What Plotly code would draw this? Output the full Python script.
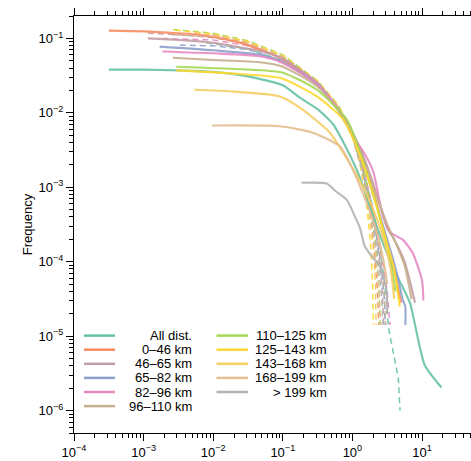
import plotly.graph_objects as go

# ---- data (exponents: x = 10**lx, y = 10**ly) ----
groups = ["All dist.", "0\u201346 km", "46\u201365 km", "65\u201382 km", "82\u201396 km", "96\u2013110 km",
          "110\u2013125 km", "125\u2013143 km", "143\u2013168 km", "168\u2013199 km", "> 199 km"]
colors = ["#66c2a5", "#f98d62", "#c49ea6", "#8da0cb", "#e78ac3", "#c6b18d",
          "#a6d854", "#ffd92f", "#f5cf62", "#e5bf91", "#b3b3b3"]

solid_lx = [
    [-3.5, -3.0, -2.5, -2.0, -1.5, -1.0, -0.75, -0.5, -0.28, -0.1, 0.1, 0.3, 0.54, 0.7, 0.83, 0.9, 1.04, 1.28],
    [-3.5, -3.0, -2.5, -2.19, -1.6, -1.0, -0.5, -0.1, 0.1, 0.3, 0.45, 0.6, 0.7],
    [-2.94, -2.5, -2.0, -1.33, -1.0, -0.5, -0.1, 0.1, 0.3, 0.5, 0.6, 0.75, 0.9],
    [-2.77, -2.0, -1.33, -1.0, -0.5, -0.1, 0.1, 0.3, 0.5, 0.65, 0.72, 0.76, 0.76],
    [-2.73, -2.0, -1.33, -1.0, -0.5, -0.2, 0.0, 0.17, 0.30, 0.42, 0.54, 0.73, 0.87, 1.0, 1.02],
    [-2.58, -2.0, -1.33, -1.0, -0.5, -0.1, 0.1, 0.3, 0.5, 0.6, 0.75, 0.85],
    [-2.53, -1.47, -1.0, -0.51, -0.08, 0.1, 0.3, 0.45, 0.55, 0.62],
    [-2.53, -1.76, -1.04, -0.51, -0.13, 0.1, 0.3, 0.45, 0.6, 0.68],
    [-2.27, -1.76, -1.04, -0.71, -0.32, -0.13, 0.1, 0.3, 0.45, 0.55, 0.6],
    [-2.02, -1.04, -0.56, -0.18, 0.0, 0.2, 0.35, 0.45, 0.5],
    [-0.73, -0.37, -0.23, -0.08, 0.04, 0.11, 0.18, 0.3, 0.40, 0.49, 0.5],
]
solid_ly = [
    [-1.42, -1.42, -1.43, -1.45, -1.51, -1.63, -1.80, -1.95, -2.15, -2.45, -2.85, -3.4, -3.98, -4.3, -4.56, -4.85, -5.39, -5.69],
    [-0.896, -0.905, -0.93, -0.95, -1.06, -1.28, -1.62, -2.1, -2.5, -3.05, -3.6, -4.1, -4.55],
    [-1.0, -1.02, -1.06, -1.17, -1.27, -1.6, -2.1, -2.45, -2.95, -3.55, -3.7, -4.0, -4.55],
    [-1.11, -1.16, -1.22, -1.32, -1.62, -2.1, -2.5, -3.1, -3.7, -4.2, -4.5, -4.6, -4.85],
    [-1.175, -1.2, -1.24, -1.33, -1.62, -1.95, -2.3, -2.54, -2.79, -3.31, -3.60, -3.71, -3.89, -4.25, -4.52],
    [-1.26, -1.29, -1.32, -1.38, -1.65, -2.1, -2.5, -3.0, -3.5, -3.7, -4.05, -4.5],
    [-1.38, -1.42, -1.46, -1.69, -2.09, -2.5, -3.1, -3.6, -4.0, -4.4],
    [-1.43, -1.47, -1.53, -1.78, -2.09, -2.55, -3.1, -3.6, -4.1, -4.6],
    [-1.69, -1.71, -1.78, -1.96, -2.27, -2.54, -2.9, -3.3, -3.7, -4.1, -4.5],
    [-2.17, -2.18, -2.27, -2.45, -2.75, -3.2, -3.6, -4.0, -4.3],
    [-2.94, -2.95, -3.06, -3.17, -3.40, -3.55, -3.80, -3.95, -4.07, -4.38, -4.7],
]

dashed_lx = [
    [-2.1, -1.5, -1.0, -0.5, -0.2, 0.0, 0.15, 0.3, 0.4, 0.47, 0.49, 0.517, 0.637, 0.66, 0.684],
    [-2.0, -1.5, -1.0, -0.5, -0.2, 0.0, 0.15, 0.25, 0.32, 0.36, 0.38],
    [-2.94, -2.5, -2.0, -1.5, -1.0, -0.5, -0.2, 0.0, 0.15, 0.28, 0.38, 0.43, 0.45],
    [-2.48, -2.0, -1.5, -1.0, -0.5, -0.2, 0.0, 0.15, 0.3, 0.4, 0.46, 0.47],
    [-2.73, -2.0, -1.5, -1.0, -0.5, -0.2, 0.0, 0.15, 0.3, 0.42, 0.5, 0.54],
    [-2.58, -2.0, -1.5, -1.0, -0.5, -0.2, 0.0, 0.15, 0.28, 0.38, 0.45, 0.48],
    [-2.58, -2.0, -1.5, -1.0, -0.5, -0.2, 0.0, 0.15, 0.25, 0.33, 0.38, 0.4],
    [-2.55, -2.0, -1.5, -1.0, -0.5, -0.2, 0.0, 0.12, 0.2, 0.26, 0.29, 0.3],
    [-2.27, -2.0, -1.5, -1.0, -0.5, -0.2, 0.0, 0.12, 0.22, 0.3, 0.33, 0.34],
    [-2.02, -1.5, -1.0, -0.5, -0.2, 0.0, 0.15, 0.25, 0.33, 0.38, 0.41],
    [-0.73, -0.5, -0.2, 0.0, 0.15, 0.28, 0.37, 0.42, 0.44],
]
dashed_ly = [
    [-1.06, -1.14, -1.3, -1.62, -1.95, -2.3, -2.75, -3.3, -3.8, -4.3, -4.52, -4.88, -5.48, -5.57, -6.0],
    [-0.95, -1.05, -1.25, -1.58, -1.92, -2.28, -2.8, -3.3, -3.9, -4.4, -4.85],
    [-0.93, -0.95, -0.99, -1.08, -1.27, -1.6, -1.94, -2.3, -2.75, -3.3, -3.9, -4.4, -4.85],
    [-1.09, -1.1, -1.15, -1.3, -1.63, -1.97, -2.32, -2.8, -3.4, -3.95, -4.5, -4.85],
    [-1.0, -1.02, -1.1, -1.26, -1.6, -1.93, -2.28, -2.72, -3.3, -3.9, -4.4, -4.85],
    [-0.95, -0.98, -1.06, -1.24, -1.58, -1.92, -2.27, -2.72, -3.25, -3.8, -4.3, -4.85],
    [-0.88, -0.93, -1.03, -1.22, -1.57, -1.9, -2.25, -2.7, -3.2, -3.75, -4.3, -4.85],
    [-0.89, -0.94, -1.04, -1.23, -1.57, -1.91, -2.26, -2.7, -3.2, -3.75, -4.3, -4.85],
    [-0.92, -0.95, -1.05, -1.24, -1.58, -1.93, -2.3, -2.75, -3.25, -3.8, -4.3, -4.85],
    [-0.95, -1.07, -1.25, -1.6, -1.95, -2.3, -2.8, -3.3, -3.85, -4.4, -4.85],
    [-1.45, -1.62, -1.96, -2.32, -2.8, -3.4, -3.95, -4.5, -4.85],
]

x_tick_exps = [-4, -3, -2, -1, 0, 1, 2]
y_tick_exps = [-6, -5, -4, -3, -2, -1]

# ---- figure ----
W, H = 471, 461
ML, MR, MT, MB = 74, 0, 16, 28
fig = go.Figure()

for i, name in enumerate(groups):
    fig.add_trace(go.Scatter(
        x=[10 ** v for v in dashed_lx[i]], y=[10 ** v for v in dashed_ly[i]],
        mode="lines", line=dict(color=colors[i], width=1.5, dash="6px,4px"),
        opacity=0.9, showlegend=False, hoverinfo="skip"))
for i, name in enumerate(groups):
    fig.add_trace(go.Scatter(
        x=[10 ** v for v in solid_lx[i]], y=[10 ** v for v in solid_ly[i]],
        mode="lines", line=dict(color=colors[i], width=2.1, shape="spline", smoothing=0.6),
        opacity=0.9, name=name, showlegend=False))

def minor_vals(exps):
    out = []
    for e in range(min(exps) - 1, max(exps) + 1):
        for m in range(2, 10):
            out.append(m * 10.0 ** e)
    return out

def sup(e):
    return "10<sup>" + ("\u2212" + str(-e) if e < 0 else str(e)) + "</sup>"

axis_common = dict(type="log", showgrid=False, zeroline=False, showline=True,
                   linecolor="black", linewidth=1, ticks="outside", ticklen=7,
                   tickcolor="black", tickwidth=1,
                   tickfont=dict(size=13, color="black"))

fig.update_xaxes(**axis_common, range=[-4, -4 + (W - ML - MR) / 69.6], mirror="ticks",
                 tickmode="array", tickvals=[10.0 ** e for e in x_tick_exps],
                 ticktext=[sup(e) for e in x_tick_exps],
                 minor=dict(ticks="outside", ticklen=4, tickcolor="black",
                            tickmode="array", tickvals=minor_vals(x_tick_exps), showgrid=False))
fig.update_yaxes(**axis_common, range=[-6.30103, -0.69897], mirror=False,
                 tickmode="array", tickvals=[10.0 ** e for e in y_tick_exps],
                 ticktext=[sup(e) for e in y_tick_exps],
                 minor=dict(ticks="outside", ticklen=4, tickcolor="black",
                            tickmode="array", tickvals=minor_vals(y_tick_exps), showgrid=False),
                 title=dict(text="Frequency", font=dict(size=13, color="black"), standoff=3))

# ---- legend drawn as shapes + annotations (two right-aligned columns) ----
pw, ph = W - ML - MR, H - MT - MB
def px2paper(x, y):
    return (x - ML) / pw, (H - MB - y) / ph

row0, step = 335.6, 14.1
cols = [(84, 115, 193.5), (216.5, 248, 328.5)]
shapes, annos = [], []
for i, name in enumerate(groups):
    c = 0 if i < 6 else 1
    r = i if i < 6 else i - 6
    yy = row0 + r * step
    x0, x1, xt = cols[c]
    a0, b = px2paper(x0, yy)
    a1, _ = px2paper(x1, yy)
    at, _ = px2paper(xt, yy)
    shapes.append(dict(type="line", xref="paper", yref="paper", x0=a0, x1=a1, y0=b, y1=b,
                       line=dict(color=colors[i], width=2.5)))
    annos.append(dict(xref="paper", yref="paper", x=at, y=b, text=name, showarrow=False,
                      xanchor="right", yanchor="middle", font=dict(size=13, color="black")))

fig.update_layout(width=W, height=H, margin=dict(l=ML, r=MR, t=MT, b=MB),
                  paper_bgcolor="white", plot_bgcolor="white",
                  font=dict(family="Liberation Sans, Arial, Helvetica, sans-serif", color="black"),
                  shapes=shapes, annotations=annos, showlegend=False)

fig.write_html("out.html")
